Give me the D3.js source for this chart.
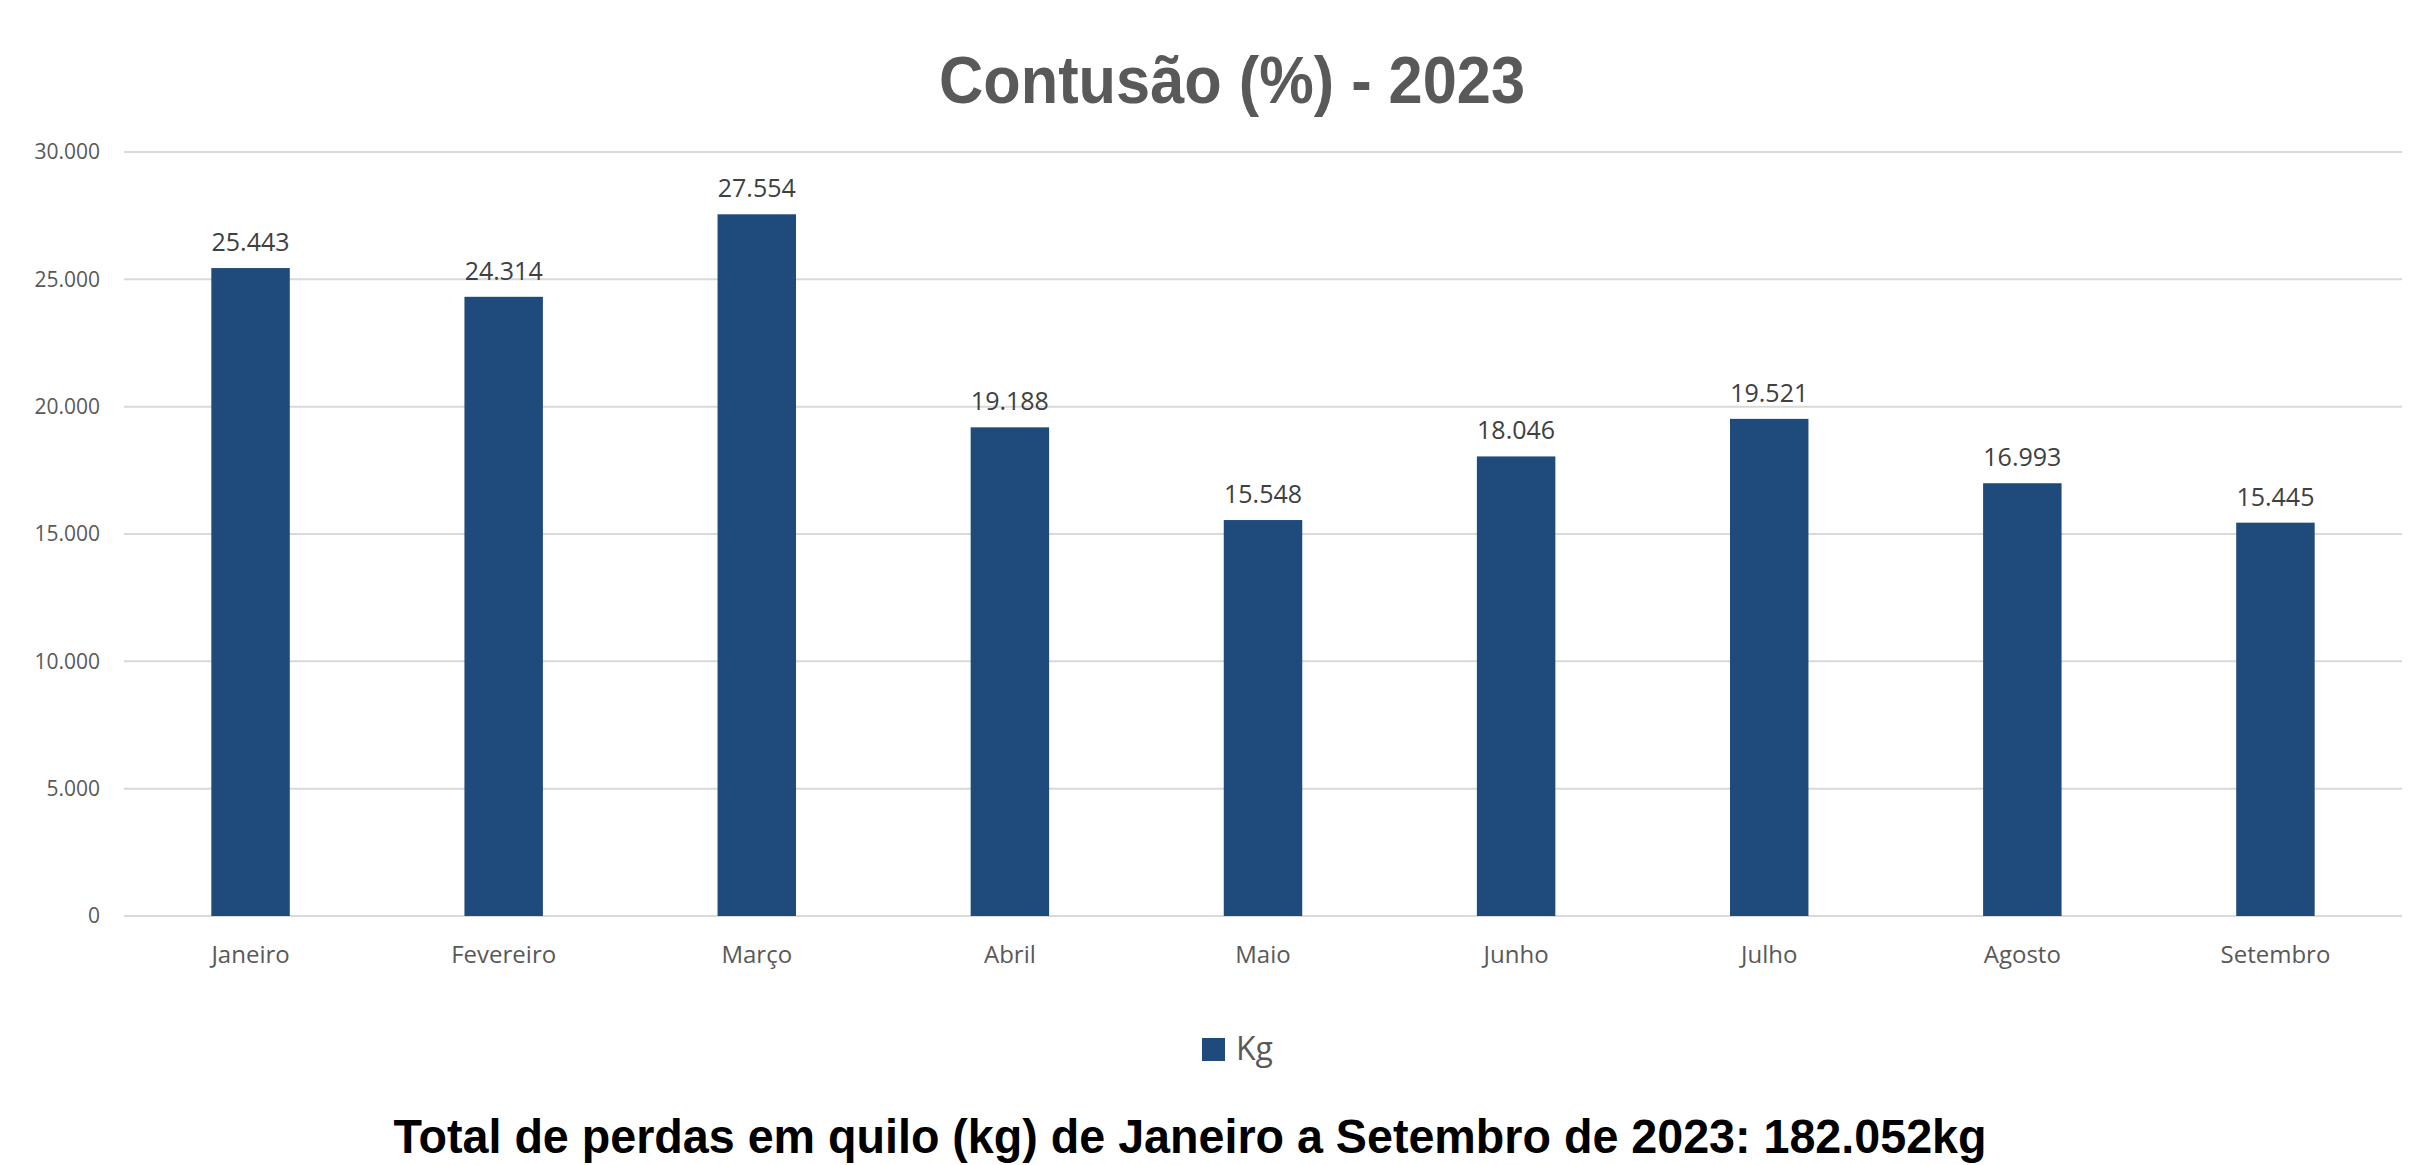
<!DOCTYPE html>
<html>
<head>
<meta charset="utf-8">
<script src="https://cdn.jsdelivr.net/npm/d3@7"></script>
<style>
  html, body { margin: 0; padding: 0; background: #fff; }
</style>
</head>
<body>
<div id="chart"></div>
<script>
var months = ["Janeiro", "Fevereiro", "Março", "Abril", "Maio", "Junho", "Julho", "Agosto", "Setembro"];
var kg = [25443, 24314, 27554, 19188, 15548, 18046, 19521, 16993, 15445];
var yTicks = [0, 5000, 10000, 15000, 20000, 25000, 30000];
var seriesName = "Kg";
var titleText = "Contusão (%) - 2023";
var footText = "Total de perdas em quilo (kg) de Janeiro a Setembro de 2023: 182.052kg";

var width = 2415, height = 1165;
var plotLeft = 124, plotRight = 2402, plotTop = 152, plotBottom = 916;
var barColor = "#1f4a7c";
var textColor = "#595959";

var ptBR = d3.formatLocale({decimal: ",", thousands: ".", grouping: [3], currency: ["R$", ""]});
var fmt = ptBR.format(",d");

var svg = d3.select("#chart").append("svg")
    .attr("width", width)
    .attr("height", height)
    .attr("xmlns", "http://www.w3.org/2000/svg");

var x = d3.scaleBand().domain(months).range([plotLeft, plotRight]).paddingInner(0.69).paddingOuter(0.345);
var y = d3.scaleLinear().domain([0, 30000]).range([plotBottom, plotTop]);

// grid
svg.append("g").selectAll("line")
    .data(yTicks)
    .join("line")
    .attr("x1", plotLeft).attr("x2", plotRight)
    .attr("y1", d => y(d)).attr("y2", d => y(d))
    .style("stroke", "#d9d9d9")
    .style("stroke-width", 2);

// y labels
svg.append("g").selectAll("text")
    .data(yTicks)
    .join("text")
    .attr("x", 100)
    .attr("y", d => y(d))
    .attr("dy", "0.35em")
    .attr("text-anchor", "end")
    .style("font-family", "'Open Sans', sans-serif")
    .style("font-size", "21px")
    .style("fill", textColor)
    .text(d => fmt(d));

// bars
svg.append("g").selectAll("rect")
    .data(kg)
    .join("rect")
    .attr("x", (d, i) => x(months[i]))
    .attr("y", d => y(d))
    .attr("width", x.bandwidth())
    .attr("height", d => plotBottom - y(d))
    .style("fill", barColor);

// value labels
svg.append("g").selectAll("text")
    .data(kg)
    .join("text")
    .attr("x", (d, i) => x(months[i]) + x.bandwidth() / 2)
    .attr("y", d => y(d) - 17)
    .attr("text-anchor", "middle")
    .style("font-family", "'Open Sans', sans-serif")
    .style("font-size", "25px")
    .style("fill", "#404040")
    .text(d => fmt(d));

// x labels
svg.append("g").selectAll("text")
    .data(months)
    .join("text")
    .attr("x", d => x(d) + x.bandwidth() / 2)
    .attr("y", 963)
    .attr("text-anchor", "middle")
    .style("font-family", "'Open Sans', sans-serif")
    .style("font-size", "24px")
    .style("fill", textColor)
    .text(d => d);

// title
svg.append("text")
    .attr("x", 1232)
    .attr("y", 103)
    .attr("text-anchor", "middle")
    .attr("textLength", 586)
    .attr("lengthAdjust", "spacingAndGlyphs")
    .style("font-family", "'Liberation Sans', Arial, sans-serif")
    .style("font-weight", "bold")
    .style("font-size", "67px")
    .style("fill", textColor)
    .text(titleText);

// legend
var leg = svg.append("g").attr("transform", "translate(1202,1038)");
leg.append("rect")
    .attr("width", 23).attr("height", 23)
    .style("fill", barColor);
leg.append("text")
    .attr("x", 34)
    .attr("y", 22)
    .style("font-family", "'Open Sans', sans-serif")
    .style("font-size", "32px")
    .style("fill", textColor)
    .text(seriesName);

// footer
svg.append("text")
    .attr("x", 1190)
    .attr("y", 1153)
    .attr("text-anchor", "middle")
    .attr("textLength", 1593)
    .attr("lengthAdjust", "spacingAndGlyphs")
    .style("font-family", "'Liberation Sans', Arial, sans-serif")
    .style("font-weight", "bold")
    .style("font-size", "49px")
    .style("fill", "#000")
    .text(footText);
</script>
</body>
</html>
